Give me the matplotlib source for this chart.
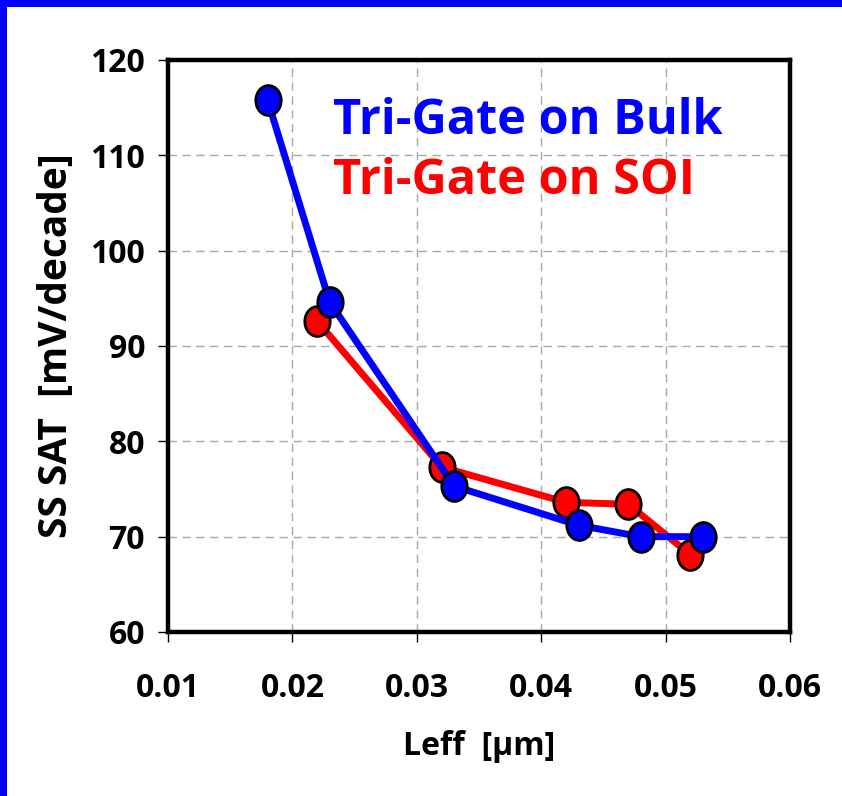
import numpy as np
import matplotlib
matplotlib.use("Agg")
import matplotlib.pyplot as plt
from matplotlib.path import Path
from matplotlib.transforms import Affine2D
from matplotlib.patches import Rectangle

plt.rcParams['font.family'] = ['Open Sans', 'DejaVu Sans']

# Data
bulk_leff = [0.018, 0.023, 0.033, 0.043, 0.048, 0.053]
bulk_ss = [115.8, 94.6, 75.3, 71.2, 70.0, 70.0]
soi_leff = [0.022, 0.032, 0.042, 0.047, 0.052]
soi_ss = [92.6, 77.3, 73.6, 73.4, 68.1]
xticks = [0.01, 0.02, 0.03, 0.04, 0.05, 0.06]
yticks = [60, 70, 80, 90, 100, 110, 120]

W, H = 842, 796
fig = plt.figure(figsize=(W / 100, H / 100), dpi=100)
fig.patch.set_facecolor("white")
fig.patches.append(Rectangle((0, 0), 7 / W, 1, transform=fig.transFigure,
                             facecolor="#0000ff", edgecolor="none"))
fig.patches.append(Rectangle((0, 1 - 7 / H), 1, 7 / H, transform=fig.transFigure,
                             facecolor="#0000ff", edgecolor="none"))

ax = fig.add_axes([168 / W, 1 - 632 / H, (790 - 168) / W, (632 - 60) / H])

ell = Path.unit_circle().transformed(Affine2D().scale(0.85, 1.0))

ax.plot(soi_leff, soi_ss, color="#ff0000", lw=5, marker=ell, ms=21.5,
        mfc="#ff0000", mec="black", mew=2, zorder=3)
ax.plot(bulk_leff, bulk_ss, color="#0000ff", lw=5, marker=ell, ms=21.5,
        mfc="#0000ff", mec="black", mew=2, zorder=4)

ax.set_xlim(0.01, 0.06)
ax.set_ylim(60, 120)
ax.set_xticks(xticks)
ax.set_yticks(yticks)
ax.set_xticklabels([f"{v:.2f}" for v in xticks])
ax.set_yticklabels([str(v) for v in yticks])
ax.grid(True, color="#a8a8a8", lw=1.0, ls=(0, (6, 4)))
ax.set_axisbelow(True)
for s in ax.spines.values():
    s.set_linewidth(3.2)
    s.set_color("black")
ax.tick_params(direction="out", length=7.5, width=1.0, labelsize=23)
ax.tick_params(axis="x", pad=21.5)
ax.tick_params(axis="y", pad=9)
for lab in ax.get_xticklabels() + ax.get_yticklabels():
    lab.set_fontweight("bold")

ax.set_xlabel("Leff  [µm]", fontsize=23, fontweight="bold", labelpad=17.5)
ax.set_ylabel("SS SAT  [mV/decade]", fontsize=28, fontweight="bold", labelpad=10)

ax.text(0.265, 0.893, "Tri-Gate on Bulk", transform=ax.transAxes, color="#0000ff",
        fontsize=35, fontweight="bold", va="center", ha="left")
ax.text(0.265, 0.788, "Tri-Gate on SOI", transform=ax.transAxes, color="#ff0000",
        fontsize=35, fontweight="bold", va="center", ha="left")

fig.savefig("out.png", dpi=100)
